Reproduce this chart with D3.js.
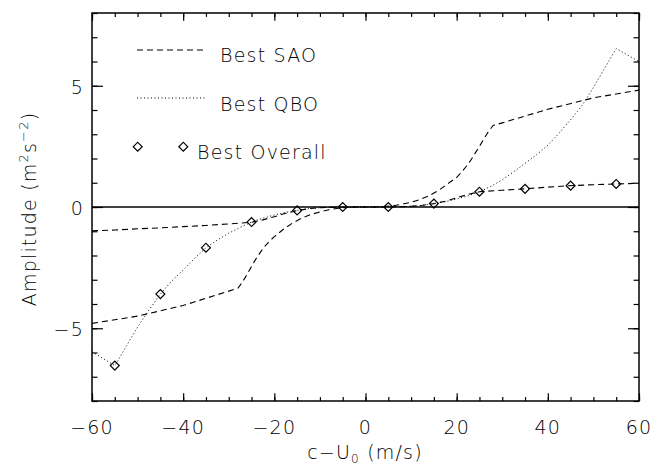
<!DOCTYPE html>
<html>
<head>
<meta charset="utf-8">
<script src="https://cdn.jsdelivr.net/npm/d3@7/dist/d3.min.js"></script>
<style>
body { margin: 0; background: #fff; }
text { font-family: "DejaVu Sans", sans-serif; font-weight: 200; fill: #000; }
.label { font-size: 19px; letter-spacing: 1.2px; }
</style>
</head>
<body>
<div id="svganchor"></div>
<script>
// steep dashed curve (Best SAO)
let saoX = [-60, -50, -40, -30, -28, -27, -26, -25, -24, -23, -22, -21, -20, -18, -16, -14, -12, -10, -8, -6, -4, -2, 0,
            2, 4, 6, 8, 10, 12, 14, 16, 18, 20, 21, 22, 23, 24, 25, 26, 27, 28, 30, 40, 50, 60];
let saoY = [-4.80, -4.50, -4.06, -3.47, -3.35, -3.10, -2.78, -2.45, -2.13, -1.85, -1.60, -1.40, -1.22, -0.92, -0.66, -0.46, -0.31, -0.20, -0.11, -0.05, -0.02, 0, 0,
            0, 0.02, 0.05, 0.11, 0.20, 0.31, 0.47, 0.68, 0.95, 1.22, 1.42, 1.65, 1.90, 2.20, 2.50, 2.82, 3.12, 3.36, 3.47, 4.03, 4.50, 4.82];

// flat dashed curve
let flatX = [-60, -55, -50, -45, -40, -35, -30, -25, -22.5, -20, -17.5, -15, -12.5, -10, -5, 0,
             5, 10, 12.5, 15, 17.5, 20, 22.5, 25, 30, 35, 40, 45, 50, 55, 60];
let flatY = [-0.98, -0.95, -0.90, -0.86, -0.81, -0.76, -0.70, -0.63, -0.53, -0.40, -0.26, -0.15, -0.07, -0.03, 0, 0,
             0, 0.03, 0.07, 0.14, 0.24, 0.38, 0.52, 0.63, 0.69, 0.75, 0.82, 0.88, 0.92, 0.95, 0.98];

// dotted curve (Best QBO)
let qboX = [-60, -55, -52.5, -50, -47.5, -45, -42.5, -40, -37.5, -35, -32.5, -30, -27.5, -25, -22.5, -20, -17.5, -15, -12.5, -10, -7.5, -5, 0,
            5, 7.5, 10, 12.5, 15, 17.5, 20, 22.5, 25, 27.5, 30, 32.5, 35, 37.5, 40, 42.5, 45, 47.5, 50, 52.5, 55, 60];
let qboY = [-5.97, -6.54, -5.75, -4.95, -4.25, -3.59, -3.05, -2.60, -2.12, -1.68, -1.36, -1.08, -0.84, -0.62, -0.46, -0.33, -0.22, -0.14, -0.07, -0.03, -0.01, 0, 0,
            0, 0.01, 0.03, 0.07, 0.14, 0.22, 0.33, 0.46, 0.63, 0.85, 1.12, 1.45, 1.80, 2.15, 2.55, 3.05, 3.60, 4.18, 4.93, 5.73, 6.53, 6.00];

// diamonds (Best Overall)
let overallX = [-55, -45, -35, -25, -15, -5, 5, 15, 25, 35, 45, 55];
let overallY = [-6.54, -3.59, -1.68, -0.62, -0.14, 0, 0, 0.14, 0.63, 0.75, 0.88, 0.95];

let xMajor = [-60, -40, -20, 0, 20, 40, 60];
let yMajor = [-5, 0, 5];
let legendNames = ["Best SAO", "Best QBO", "Best Overall"];

let width = 663, height = 466;
let margin = ({top: 13, right: 24, bottom: 65, left: 92});

let xScale = d3.scaleLinear()
    .domain([-60, 60])
    .range([margin.left, width - margin.right]);

let yScale = d3.scaleLinear()
    .domain([-8, 8])
    .range([height - margin.bottom, margin.top]);

let xMinor = d3.range(-60, 61, 5);
let yMinor = d3.range(-8, 9, 1);

let fmt = function(d) { return d < 0 ? "\u2212" + Math.abs(d) : "" + d; };

let svg = d3.select("#svganchor")
    .append("svg")
    .attr("width", width)
    .attr("height", height);

let plotW = width - margin.left - margin.right;
let plotH = height - margin.top - margin.bottom;

function tickAxis(axis, values, size) {
    return axis.tickValues(values).tickSizeInner(-size).tickSizeOuter(0).tickFormat("");
}

// minor + major ticks on all four sides
let sides = [
    {axis: d3.axisBottom, t: "translate(0," + (height - margin.bottom) + ")", s: xScale, h: plotH},
    {axis: d3.axisTop, t: "translate(0," + margin.top + ")", s: xScale, h: plotH},
    {axis: d3.axisLeft, t: "translate(" + margin.left + ",0)", s: yScale, h: plotW},
    {axis: d3.axisRight, t: "translate(" + (width - margin.right) + ",0)", s: yScale, h: plotW}
];

sides.forEach(function(sd) {
    let isX = sd.s === xScale;
    let minor = isX ? xMinor : yMinor;
    let major = isX ? xMajor : yMajor;
    let g = svg.append("g").attr("transform", sd.t);
    g.append("g").call(tickAxis(sd.axis(sd.s), minor, sd.h * 0.01));
    g.append("g").call(tickAxis(sd.axis(sd.s), major, sd.h * 0.02));
    g.selectAll(".domain").remove();
    g.selectAll(".tick line").attr("stroke", "#000").attr("stroke-width", 1.2);
});

svg.append("rect")
    .attr("x", margin.left)
    .attr("y", margin.top)
    .attr("width", plotW)
    .attr("height", plotH)
    .attr("fill", "none")
    .attr("stroke", "#000")
    .attr("stroke-width", 1.5);

// tick labels
svg.append("g").selectAll("text")
    .data(xMajor)
    .enter().append("text")
    .attr("class", "label")
    .attr("text-anchor", "middle")
    .attr("x", function(d) { return xScale(d); })
    .attr("y", height - margin.bottom + 33)
    .text(fmt);

svg.append("g").selectAll("text")
    .data(yMajor)
    .enter().append("text")
    .attr("class", "label")
    .attr("text-anchor", "end")
    .attr("x", margin.left - 8)
    .attr("y", function(d) { return yScale(d) + 8; })
    .text(fmt);

// axis titles
let xTitle = svg.append("text")
    .attr("class", "label")
    .attr("text-anchor", "middle")
    .attr("x", 365)
    .attr("y", height - 7);
xTitle.append("tspan").text("c\u2212U");
xTitle.append("tspan").attr("font-size", "12px").attr("dy", 4).text("0");
xTitle.append("tspan").attr("dy", -4).text(" (m/s)");

let yTitle = svg.append("text")
    .attr("class", "label")
    .attr("text-anchor", "middle")
    .attr("transform", "translate(36," + (yScale(0) + 2) + ") rotate(-90)");
yTitle.append("tspan").text("Amplitude (m");
yTitle.append("tspan").attr("font-size", "13px").attr("dy", -8).text("2");
yTitle.append("tspan").attr("dy", 8).text("s");
yTitle.append("tspan").attr("font-size", "13px").attr("dy", -8).text("\u22122");
yTitle.append("tspan").attr("dy", 8).text(")");

// zero line
svg.append("line")
    .attr("x1", xScale(-60))
    .attr("x2", xScale(60))
    .attr("y1", yScale(0))
    .attr("y2", yScale(0))
    .attr("stroke", "#000")
    .attr("stroke-width", 1.3);

let line = d3.line()
    .x(function(d) { return xScale(d[0]); })
    .y(function(d) { return yScale(d[1]); });

function pairs(xs, ys) { return xs.map(function(x, i) { return [x, ys[i]]; }); }

svg.append("path")
    .datum(pairs(saoX, saoY))
    .attr("d", line)
    .attr("fill", "none")
    .attr("stroke", "#000")
    .attr("stroke-width", 1.1)
    .attr("stroke-dasharray", "6,4");

svg.append("path")
    .datum(pairs(flatX, flatY))
    .attr("d", line)
    .attr("fill", "none")
    .attr("stroke", "#000")
    .attr("stroke-width", 1.1)
    .attr("stroke-dasharray", "6,4");

svg.append("path")
    .datum(pairs(qboX, qboY))
    .attr("d", line)
    .attr("fill", "none")
    .attr("stroke", "#000")
    .attr("stroke-width", 1)
    .attr("stroke-dasharray", "1,2.5");

let diamond = d3.symbol().type(d3.symbolSquare).size(40);

svg.append("g").selectAll("path")
    .data(pairs(overallX, overallY))
    .enter().append("path")
    .attr("d", diamond)
    .attr("transform", function(d) { return "translate(" + xScale(d[0]) + "," + yScale(d[1]) + ") rotate(45)"; })
    .attr("fill", "none")
    .attr("stroke", "#000")
    .attr("stroke-width", 1.2);

// legend
let lx = margin.left + 45, ly = margin.top + 37;
let legend = svg.append("g").attr("transform", "translate(" + lx + "," + ly + ")");

legend.append("line")
    .attr("x1", 0).attr("x2", 69).attr("y1", 0).attr("y2", 0)
    .attr("stroke", "#000").attr("stroke-width", 1.1).attr("stroke-dasharray", "6,4");
legend.append("line")
    .attr("x1", 0).attr("x2", 69).attr("y1", 48).attr("y2", 48)
    .attr("stroke", "#000").attr("stroke-width", 1).attr("stroke-dasharray", "1,2.5");
legend.selectAll(".ldia")
    .data([0.7, 46.3])
    .enter().append("path")
    .attr("class", "ldia")
    .attr("d", diamond)
    .attr("transform", function(d) { return "translate(" + d + ",96.7) rotate(45)"; })
    .attr("fill", "none")
    .attr("stroke", "#000")
    .attr("stroke-width", 1.2);

legend.selectAll(".ltxt")
    .data(legendNames)
    .enter().append("text")
    .attr("class", "label ltxt")
    .attr("x", function(d, i) { return i < 2 ? 83 : 60; })
    .attr("y", function(d, i) { return 12 + i * 48.5; })
    .text(function(d) { return d; });
</script>
</body>
</html>
